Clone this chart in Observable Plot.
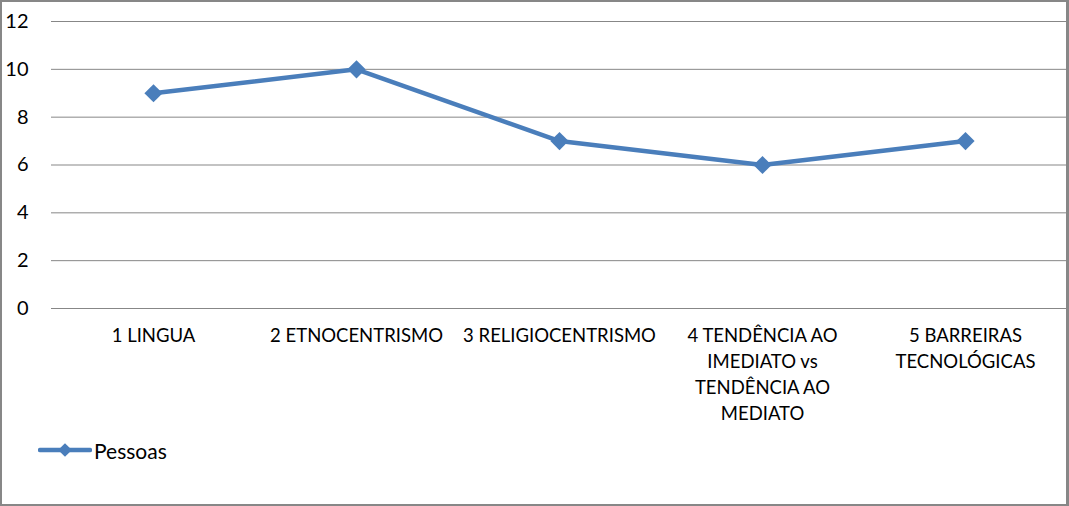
<!DOCTYPE html>
<html>
<head>
<meta charset="utf-8">
<script src="https://cdn.jsdelivr.net/npm/d3@7"></script>
<script src="https://cdn.jsdelivr.net/npm/@observablehq/plot@0.6"></script>
<style>
  html, body { margin: 0; padding: 0; background: #fff; }
  #wrap { position: relative; width: 1069px; height: 506px; overflow: hidden; font-family: Lato, "Open Sans", sans-serif; }
  #frame { position: absolute; left: 0; top: 0; width: 1069px; height: 506px; box-sizing: border-box;
           border: 2px solid #878787; border-right-width: 3px; pointer-events: none; }
  #chart svg { display: block; }
  #legend { position: absolute; left: 38px; top: 436px; height: 28px; display: flex; align-items: center;
            font-size: 21px; color: #000; }
  #legend span { margin-left: 2px; }
</style>
</head>
<body>
<div id="wrap">
  <div id="chart"></div>
  <div id="legend"></div>
  <div id="frame"></div>
</div>
<script>
const categories = ["1 LINGUA", "2 ETNOCENTRISMO", "3 RELIGIOCENTRISMO", "4 TENDÊNCIA AO IMEDIATO vs TENDÊNCIA AO MEDIATO", "5 BARREIRAS TECNOLÓGICAS"];
const categoryLabels = ["1 LINGUA", "2 ETNOCENTRISMO", "3 RELIGIOCENTRISMO", "4 TENDÊNCIA AO\nIMEDIATO vs\nTENDÊNCIA AO\nMEDIATO", "5 BARREIRAS\nTECNOLÓGICAS"];
const pessoas = [9, 10, 7, 6, 7];
const yTicks = [0, 2, 4, 6, 8, 10, 12];
const seriesName = "Pessoas";
const color = "#4A7EBB";

const data = categories.map((c, i) => ({category: c, value: pessoas[i]}));
const labelOf = new Map(categories.map((c, i) => [c, categoryLabels[i]]));

const chart = Plot.plot({
  width: 1069,
  height: 432,
  marginLeft: 51,
  marginRight: 2,
  marginTop: 21,
  marginBottom: 124,
  style: {fontFamily: "Lato, 'Open Sans', sans-serif", background: "transparent", color: "#000"},
  x: {type: "point", domain: categories, padding: 0.5},
  y: {domain: [0, 12], ticks: yTicks},
  marks: [
    Plot.gridY(yTicks, {stroke: "#878787", strokeOpacity: 1, strokeWidth: 1}),
    Plot.axisY(yTicks, {tickSize: 0, tickPadding: 23, fontSize: 20, label: null}),
    Plot.axisX({tickSize: 0, tickPadding: 15, fontSize: 18.5, lineHeight: 1.4, label: null,
                tickFormat: d => labelOf.get(d), lineWidth: 100}),
    Plot.line(data, {x: "category", y: "value", stroke: color, strokeWidth: 4.5, strokeLinejoin: "round", strokeLinecap: "round"}),
    Plot.dot(data, {x: "category", y: "value", symbol: "diamond2", r: 8.2, fill: color, stroke: "none"})
  ]
});
document.getElementById("chart").appendChild(chart);

// legend
const leg = document.getElementById("legend");
const ls = d3.create("svg").attr("width", 54).attr("height", 28);
ls.append("line").attr("x1", 2).attr("x2", 52).attr("y1", 14).attr("y2", 14)
  .attr("stroke", color).attr("stroke-width", 4.5).attr("stroke-linecap", "round");
ls.append("path").attr("d", d3.symbol(d3.symbolDiamond2, 120)()).attr("transform", "translate(27,14)").attr("fill", color);
leg.appendChild(ls.node());
const sp = document.createElement("span");
sp.textContent = seriesName;
leg.appendChild(sp);
</script>
</body>
</html>
